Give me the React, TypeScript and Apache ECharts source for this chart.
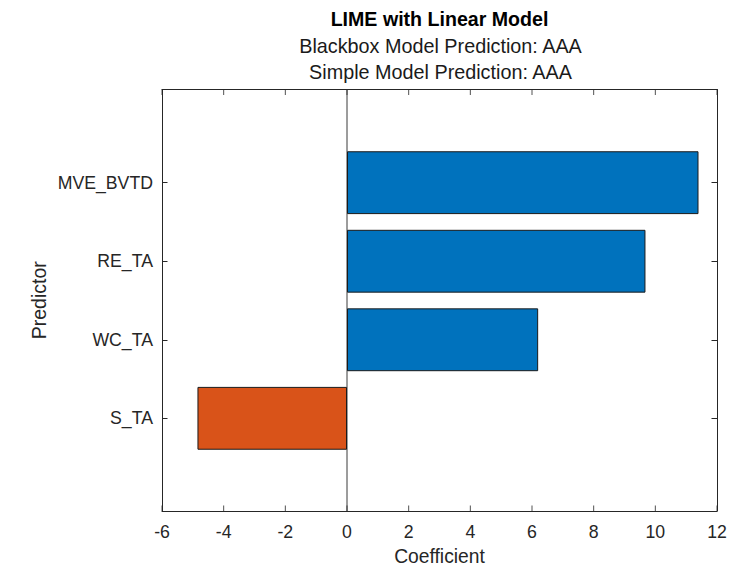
import React, { useEffect, useRef } from "react";
import * as echarts from "echarts";

const predictors = ["S_TA", "WC_TA", "RE_TA", "MVE_BVTD"];
const coefficients = [-4.85, 6.2, 9.68, 11.4];
const xTicks = { min: -6, max: 12, interval: 2 };
const xTickValues = [-6, -4, -2, 0, 2, 4, 6, 8, 10, 12];
const titleLines = [
  "LIME with Linear Model",
  "Blackbox Model Prediction: AAA",
  "Simple Model Prediction: AAA",
];

const FONT = "'Liberation Sans', Arial, Helvetica, sans-serif";
const AX = "#262626";
const BLUE = "#0072BD";
const ORANGE = "#D95319";
const TICK_LEN = 5.5;

const mkLine = () => ({ show: true, onZero: false, lineStyle: { color: AX, width: 1 } });
const mkNoLine = () => ({ show: false, onZero: false });
const mkTick = () => ({ show: true, inside: true, length: TICK_LEN, lineStyle: { color: AX, width: 1 } });

export default function App() {
  const ref = useRef<HTMLDivElement>(null);
  useEffect(() => {
    if (!ref.current) return;
    const chart = echarts.init(ref.current, undefined, { renderer: "svg" });
    const boxTop = 89.5;
    const boxBottom = 56;
    const option: any = {
      animation: false,
      backgroundColor: "#ffffff",
      textStyle: { fontFamily: FONT },
      graphic: [
        {
          type: "text",
          x: 439.5,
          y: 19,
          style: {
            text: titleLines[0],
            align: "center",
            verticalAlign: "middle",
            fontFamily: FONT,
            fontSize: 19.6,
            fontWeight: "bold",
            fill: "#000",
          },
        },
        {
          type: "text",
          x: 440.5,
          y: 46,
          style: {
            text: titleLines[1],
            align: "center",
            verticalAlign: "middle",
            fontFamily: FONT,
            fontSize: 19.8,
            fill: "#1a1a1a",
          },
        },
        {
          type: "text",
          x: 440.5,
          y: 72,
          style: {
            text: titleLines[2],
            align: "center",
            verticalAlign: "middle",
            fontFamily: FONT,
            fontSize: 19.8,
            fill: "#1a1a1a",
          },
        },
      ],
      grid: [
        { left: 162, right: 31, top: boxTop, bottom: boxBottom, outerBoundsMode: "none", containLabel: false },
        { left: 162, right: 31, top: 143.4, bottom: 109.4, outerBoundsMode: "none", containLabel: false },
      ],
      xAxis: [
        {
          gridIndex: 0,
          type: "value",
          position: "bottom",
          min: xTicks.min,
          max: xTicks.max,
          interval: xTicks.interval,
          name: "Coefficient",
          nameLocation: "middle",
          nameGap: 35,
          nameTextStyle: { fontSize: 19.3, color: AX, fontFamily: FONT, lineHeight: 20 },
          axisLine: mkLine(),
          axisTick: { show: false },
          axisLabel: { show: true, fontSize: 17.7, color: AX, margin: 12, fontFamily: FONT },
          splitLine: { show: false },
        },
        {
          gridIndex: 0,
          type: "value",
          position: "top",
          min: xTicks.min,
          max: xTicks.max,
          interval: xTicks.interval,
          axisLine: mkLine(),
          axisTick: { show: false },
          axisLabel: { show: false },
          splitLine: { show: false },
        },
        {
          gridIndex: 1,
          type: "value",
          min: xTicks.min,
          max: xTicks.max,
          axisLine: mkNoLine(),
          axisTick: { show: false },
          axisLabel: { show: false },
          splitLine: { show: false },
        },
      ],
      yAxis: [
        {
          gridIndex: 0,
          type: "value",
          position: "left",
          min: 0,
          max: 1,
          name: "Predictor",
          nameLocation: "middle",
          nameGap: 113,
          nameTextStyle: { fontSize: 19.5, color: AX, fontFamily: FONT },
          axisLine: mkLine(),
          axisTick: { show: false },
          axisLabel: { show: false },
          splitLine: { show: false },
        },
        {
          gridIndex: 0,
          type: "value",
          position: "right",
          min: 0,
          max: 1,
          axisLine: mkLine(),
          axisTick: { show: false },
          axisLabel: { show: false },
          splitLine: { show: false },
        },
        {
          gridIndex: 1,
          type: "category",
          position: "left",
          data: predictors,
          axisLine: mkNoLine(),
          axisTick: { ...mkTick(), alignWithLabel: true },
          axisLabel: { show: true, fontSize: 17.7, color: AX, margin: 9, fontFamily: FONT },
          splitLine: { show: false },
        },
        {
          gridIndex: 1,
          type: "category",
          position: "right",
          data: predictors,
          axisLine: mkNoLine(),
          axisTick: { ...mkTick(), alignWithLabel: true },
          axisLabel: { show: false },
          splitLine: { show: false },
        },
      ],
      series: [
        {
          type: "line",
          xAxisIndex: 0,
          yAxisIndex: 0,
          data: [
            [0, 0],
            [0, 1],
          ],
          symbol: "none",
          silent: true,
          lineStyle: { color: "#3a3a3a", width: 1 },
          z: 1,
        },
        {
          type: "scatter",
          xAxisIndex: 0,
          yAxisIndex: 0,
          silent: true,
          clip: false,
          symbol: "rect",
          symbolSize: [1, TICK_LEN],
          symbolOffset: [0, -TICK_LEN / 2],
          itemStyle: { color: AX },
          data: xTickValues.map((v) => [v, 0]),
          z: 3,
        },
        {
          type: "scatter",
          xAxisIndex: 0,
          yAxisIndex: 0,
          silent: true,
          clip: false,
          symbol: "rect",
          symbolSize: [1, TICK_LEN],
          symbolOffset: [0, TICK_LEN / 2],
          itemStyle: { color: AX },
          data: xTickValues.map((v) => [v, 1]),
          z: 3,
        },
        {
          type: "bar",
          xAxisIndex: 2,
          yAxisIndex: 2,
          barWidth: "80%",
          z: 2,
          data: coefficients.map((v) => ({
            value: v,
            itemStyle: { color: v < 0 ? ORANGE : BLUE },
          })),
          itemStyle: { borderColor: "#1a1a1a", borderWidth: 1 },
        },
      ],
    };
    chart.setOption(option);
    return () => chart.dispose();
  }, []);
  return (
    <div
      ref={ref}
      style={{ position: "absolute", left: 0, top: 0, width: 748, height: 567 }}
    />
  );
}
